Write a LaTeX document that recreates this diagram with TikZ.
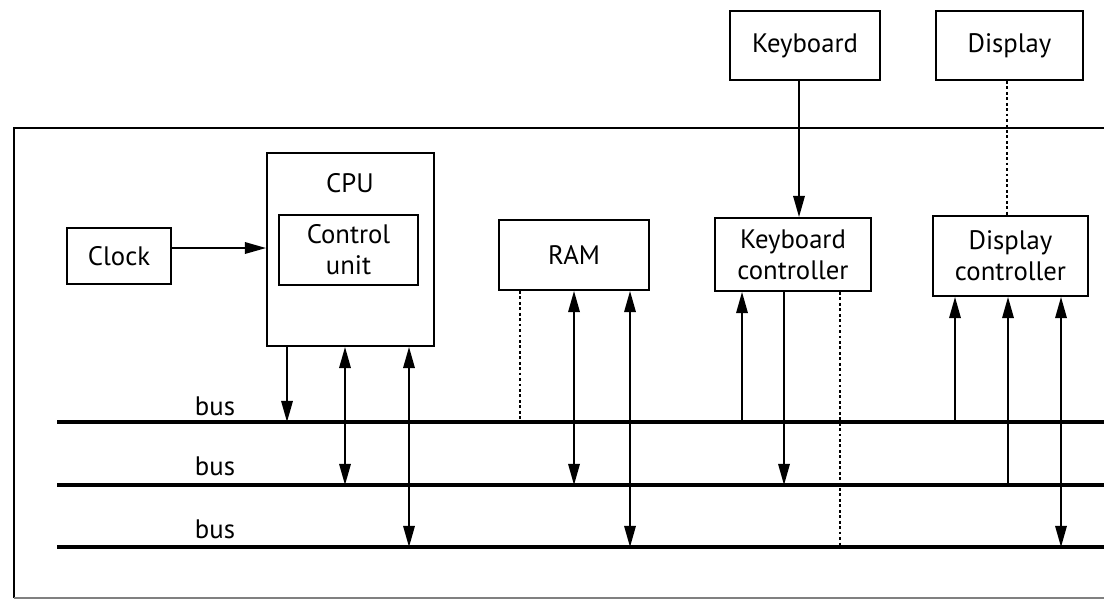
\documentclass[tikz,border=0pt]{standalone}
\usepackage{fontspec}
\setmainfont{PT Sans}
\usetikzlibrary{arrows.meta}

\begin{document}
\begin{tikzpicture}[
  x=0.02cm, y=-0.02cm,
  tri/.tip={Triangle[length=12pt, width=6.5pt]},
  box/.style={draw, line width=1.1pt, align=center, inner sep=0pt,
    font=\fontsize{15.2}{17.8}\selectfont},
  txt/.style={font=\fontsize{15.2}{17.8}\selectfont, inner sep=0pt},
  busline/.style={line width=1.8pt},
  wire/.style={line width=1.1pt},
  dotline/.style={line width=1.2pt, dash pattern=on 1.6pt off 1.5pt},
]
  \path[use as bounding box, clip] (0,0) rectangle (1104,600);

  % computer casing
  \draw[line width=1.1pt] (14,598) -- (14,128) -- (1130,128);
  \draw[line width=0.6pt, gray] (14,598) -- (1130,598);

  % outside devices
  \node[box, minimum width=3cm, minimum height=1.38cm] (kbd) at (805,45.5) {Keyboard};
  \node[box, minimum width=2.94cm, minimum height=1.38cm] (disp) at (1009.5,45.5) {Display};

  % boxes inside
  \node[box, minimum width=2.08cm, minimum height=1.12cm] (clock) at (119,256) {Clock};
  \node[box, minimum width=3.34cm, minimum height=3.86cm] (cpu) at (350.5,249.5) {};
  \node[txt] (cputxt) at (350,183) {CPU};
  \node[box, minimum width=2.78cm, minimum height=1.4cm] (cu) at (348.5,250) {Control\\unit};
  \node[box, minimum width=3cm, minimum height=1.4cm] (ram) at (574,255) {RAM};
  \node[box, minimum width=3.12cm, minimum height=1.46cm] (kbdctl) at (793,254.5) {Keyboard\\controller};
  \node[box, minimum width=3.1cm, minimum height=1.6cm] (dispctl) at (1010.5,256) {Display\\controller};

  % the three buses
  \coordinate (b1) at (57,422);
  \coordinate (b2) at (57,485);
  \coordinate (b3) at (57,547);
  \draw[busline] (b1) -- (1130,0 |- b1);
  \draw[busline] (b2) -- (1130,0 |- b2);
  \draw[busline] (b3) -- (1130,0 |- b3);
  \node[txt] (bus1) at (215,406) {bus};
  \node[txt] (bus2) at (215,466) {bus};
  \node[txt] (bus3) at (215,529) {bus};

  \draw[wire, -tri] (clock.east |- 0,248) -- (cpu.west |- 0,248);
  \draw[wire, -tri] (799,0 |- kbd.south) -- (799,0 |- kbdctl.north);
  \draw[dotline] (1007,0 |- disp.south) -- (1007,0 |- dispctl.north);

  \draw[wire, -tri] (287,0 |- cpu.south) -- (287,0 |- b1);
  \draw[wire, tri-tri] (345,0 |- cpu.south) -- (345,0 |- b2);
  \draw[wire, tri-tri] (409,0 |- cpu.south) -- (409,0 |- b3);

  \draw[dotline] (520,0 |- ram.south) -- (520,0 |- b1);
  \draw[wire, tri-tri] (574,0 |- ram.south) -- (574,0 |- b2);
  \draw[wire, tri-tri] (630,0 |- ram.south) -- (630,0 |- b3);

  \draw[wire, -tri] (742,0 |- b1) -- (742,0 |- kbdctl.south);
  \draw[wire, -tri] (784,0 |- kbdctl.south) -- (784,0 |- b2);
  \draw[dotline] (840,0 |- kbdctl.south) -- (840,0 |- b3);

  \draw[wire, -tri] (955,0 |- b1) -- (955,0 |- dispctl.south);
  \draw[wire, -tri] (1008,0 |- b2) -- (1008,0 |- dispctl.south);
  \draw[wire, tri-tri] (1061,0 |- dispctl.south) -- (1061,0 |- b3);
\end{tikzpicture}
\end{document}
